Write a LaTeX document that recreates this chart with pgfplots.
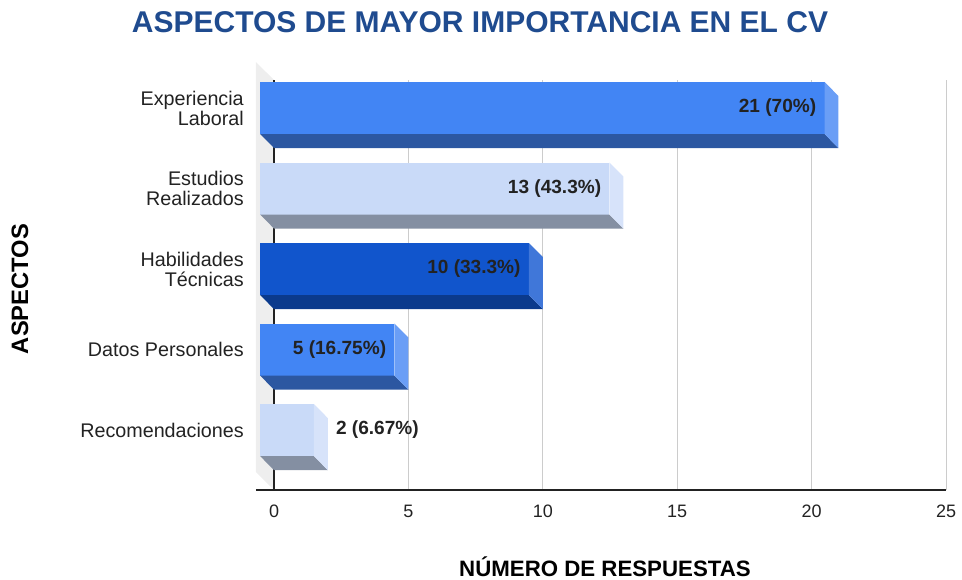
\documentclass[border=0pt]{standalone}
\usepackage{pgfplots}
\pgfplotsset{compat=1.18}
\usepackage{fontspec}
\setmainfont{Liberation Sans}
\definecolor{titleblue}{HTML}{1F4B8F}
\definecolor{bA}{HTML}{4285F4}\definecolor{bAd}{HTML}{2C57A1}\definecolor{bAs}{HTML}{6A9EF6}
\definecolor{bB}{HTML}{C9DAF8}\definecolor{bBd}{HTML}{848FA2}\definecolor{bBs}{HTML}{D7E3FA}
\definecolor{bC}{HTML}{1155CC}\definecolor{bCd}{HTML}{0B3A8C}\definecolor{bCs}{HTML}{4077D9}
\definecolor{wallg}{HTML}{EEEEEE}
\definecolor{gridg}{HTML}{CCCCCC}
\definecolor{txt}{HTML}{222222}
\begin{document}
\begin{tikzpicture}[x=1pt,y=1pt]
\path[use as bounding box] (-192,-67.5) rectangle (529.5,367.5);
\begin{axis}[at={(0,0)}, anchor=south west, scale only axis,
  width=517.5pt, height=307.5pt,
  xmin=-0.67, xmax=25, ymin=-0.745, ymax=4.348, clip=false,
  axis line style={draw=none},
  xtick={0,5,...,25}, ytick={0,...,4},
  yticklabels={Recomendaciones, Datos Personales, {Habilidades\\Técnicas}, {Estudios\\Realizados}, {Experiencia\\Laboral}},
  major tick length=0pt,
  xmajorgrids, grid style={gridg, line width=0.75pt},
  /pgf/number format/assume math mode=true,
  xticklabel style={font=\fontsize{13.5}{15}\selectfont, text=txt, inner sep=0pt, anchor=north, yshift=-11.25pt},
  yticklabel style={font=\fontsize{14.8}{15}\selectfont, text=txt, inner sep=0pt, anchor=east, align=right, xshift=-9pt},
]
% back wall
\addplot[fill=wallg, draw=none] coordinates {(-0.67,4.571) (0,4.348) (0,-0.745) (-0.67,-0.522)};
% zero line
\addplot[draw=txt, line width=1.1pt] coordinates {(0,-0.745) (0,4.348)};
% Experiencia Laboral (21)
\addplot[fill=bA, draw=none] coordinates {(-0.52,3.677) (20.48,3.677) (20.48,4.323) (-0.52,4.323)};
\addplot[fill=bAd, draw=none] coordinates {(-0.52,3.677) (20.48,3.677) (21,3.503) (0,3.503)};
\addplot[fill=bAs, draw=none] coordinates {(20.48,4.323) (21,4.149) (21,3.503) (20.48,3.677)};
% Estudios Realizados (13)
\addplot[fill=bB, draw=none] coordinates {(-0.52,2.677) (12.48,2.677) (12.48,3.323) (-0.52,3.323)};
\addplot[fill=bBd, draw=none] coordinates {(-0.52,2.677) (12.48,2.677) (13,2.503) (0,2.503)};
\addplot[fill=bBs, draw=none] coordinates {(12.48,3.323) (13,3.149) (13,2.503) (12.48,2.677)};
% Habilidades Tecnicas (10)
\addplot[fill=bC, draw=none] coordinates {(-0.52,1.677) (9.48,1.677) (9.48,2.323) (-0.52,2.323)};
\addplot[fill=bCd, draw=none] coordinates {(-0.52,1.677) (9.48,1.677) (10,1.503) (0,1.503)};
\addplot[fill=bCs, draw=none] coordinates {(9.48,2.323) (10,2.149) (10,1.503) (9.48,1.677)};
% Datos Personales (5)
\addplot[fill=bA, draw=none] coordinates {(-0.52,0.677) (4.48,0.677) (4.48,1.323) (-0.52,1.323)};
\addplot[fill=bAd, draw=none] coordinates {(-0.52,0.677) (4.48,0.677) (5,0.503) (0,0.503)};
\addplot[fill=bAs, draw=none] coordinates {(4.48,1.323) (5,1.149) (5,0.503) (4.48,0.677)};
% Recomendaciones (2)
\addplot[fill=bB, draw=none] coordinates {(-0.52,-0.323) (1.48,-0.323) (1.48,0.323) (-0.52,0.323)};
\addplot[fill=bBd, draw=none] coordinates {(-0.52,-0.323) (1.48,-0.323) (2,-0.497) (0,-0.497)};
\addplot[fill=bBs, draw=none] coordinates {(1.48,0.323) (2,0.149) (2,-0.497) (1.48,-0.323)};
% bottom axis line
\addplot[draw=txt, line width=1.5pt] coordinates {(-0.67,-0.745) (25,-0.745)};
% value labels
\begin{scope}[every node/.style={inner sep=0pt, text=txt, font=\bfseries\fontsize{14.3}{16}\selectfont}]
\node[anchor=east, xshift=-6pt] at (axis cs:20.48,4) {21 (70\%)};
\node[anchor=east, xshift=-6pt] at (axis cs:12.48,3) {13 (43.3\%)};
\node[anchor=east, xshift=-6pt] at (axis cs:9.48,2) {10 (33.3\%)};
\node[anchor=east, xshift=-6pt] at (axis cs:4.48,1) {5 (16.75\%)};
\node[anchor=west, xshift=6pt] at (axis cs:2,0) {2 (6.67\%)};
\end{scope}
\end{axis}
\node[font=\bfseries\fontsize{22.5}{26}\selectfont, text=titleblue] at (168,351) {ASPECTOS DE MAYOR IMPORTANCIA EN EL CV};
\node[font=\bfseries\fontsize{16.7}{20}\selectfont, text=black] at (261.75,-57.5) {NÚMERO DE RESPUESTAS};
\node[rotate=90, font=\bfseries\fontsize{17.8}{20}\selectfont, text=black] at (-177,150.75) {ASPECTOS};
\end{tikzpicture}
\end{document}
